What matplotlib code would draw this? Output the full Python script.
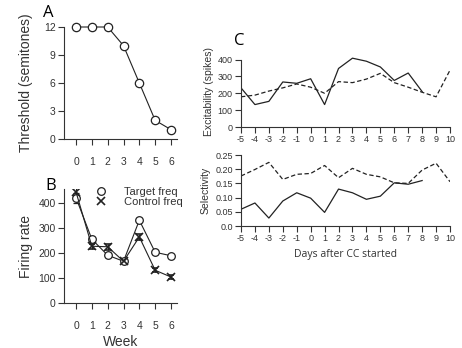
import matplotlib
matplotlib.use("Agg")
import matplotlib.pyplot as plt
from matplotlib.lines import Line2D
import numpy as np

plt.rcParams["axes.unicode_minus"] = False

# ---- data ----
weeks = [0, 1, 2, 3, 4, 5, 6]
threshold = [12, 12, 12, 10, 6, 2, 1]

target_freq = [421, 255, 191, 167, 331, 203, 189]
target_err = [20, 10, 8, 5, 8, 5, 5]
control_freq = [444, 227, 225, 167, 264, 131, 104]
control_err = [15, 10, 12, 5, 12, 8, 8]

days = [-5, -4, -3, -2, -1, 0, 1, 2, 3, 4, 5, 6, 7, 8, 9, 10]
excit_solid = [232, 133, 152, 267, 259, 286, 133, 347, 408, 390, 356, 276, 320, 210]
excit_dashed = [179, 189, 213, 232, 255, 236, 200, 269, 263, 284, 318, 263, 236, 206, 179, 337]
sel_solid = [0.059, 0.081, 0.028, 0.088, 0.117, 0.098, 0.048, 0.130, 0.117, 0.094, 0.105, 0.152, 0.147, 0.160]
sel_dashed = [0.176, 0.199, 0.224, 0.164, 0.182, 0.185, 0.213, 0.170, 0.203, 0.182, 0.173, 0.152, 0.150, 0.197, 0.221, 0.156]

W, H = 462, 348
fig = plt.figure(figsize=(W / 100, H / 100), dpi=100)

def add_ax(l, t, r, b):
    return fig.add_axes([l / W, 1 - b / H, (r - l) / W, (b - t) / H])

TICKF = "Liberation Sans"
LABF = "Open Sans"
lc = "#222222"

def style(ax, fs):
    for s in ["top", "right"]:
        ax.spines[s].set_visible(False)
    for s in ["left", "bottom"]:
        ax.spines[s].set_linewidth(0.8)
        ax.spines[s].set_color("#333333")
    ax.tick_params(direction="out", length=4, width=0.8, labelsize=fs, colors="#333333",
                   pad=2)
    for lab in ax.get_xticklabels() + ax.get_yticklabels():
        lab.set_fontfamily(TICKF)

# ---- Panel A ----
axA = add_ax(64, 27, 177, 139)
axA.plot(weeks, threshold, color=lc, lw=0.8, marker="o", ms=6, mfc="white", mec=lc, mew=0.9,
         clip_on=False, zorder=5)
axA.set_xlim(-0.76, 6.38)
axA.set_ylim(0, 12)
axA.set_xticks(weeks)
axA.set_yticks([0, 3, 6, 9, 12])
style(axA, 7.5)
axA.tick_params(axis="x", pad=9)
axA.set_ylabel("Threshold (semitones)", fontsize=10, fontfamily=TICKF, color="#333333", labelpad=8)
fig.text(43 / W, 1 - 17 / H, "A", fontsize=12, fontfamily=LABF, va="baseline")

# ---- Panel B ----
axB = add_ax(64, 189, 177, 303)
axB.errorbar(weeks, target_freq, yerr=target_err, color=lc, lw=0.8, marker="o", ms=5.5,
             mfc="white", mec=lc, mew=0.9, capsize=2, elinewidth=0.8)
axB.errorbar(weeks, control_freq, yerr=control_err, color=lc, lw=0.8, marker="x", ms=5.5,
             mec=lc, mew=1.2, capsize=2, elinewidth=0.8)
axB.set_xlim(-0.76, 6.38)
axB.set_ylim(0, 456)
axB.spines["left"].set_bounds(0, 456)
axB.set_xticks(weeks)
axB.set_yticks([0, 100, 200, 300, 400])
style(axB, 7.5)
axB.tick_params(axis="x", pad=9)
axB.set_ylabel("Firing rate", fontsize=10, fontfamily=TICKF, color="#333333", labelpad=4)
axB.set_xlabel("Week", fontsize=10, fontfamily=TICKF, color="#333333", labelpad=3)
handles = [Line2D([], [], ls="none", marker="o", ms=5.5, mfc="white", mec=lc, mew=0.9),
           Line2D([], [], ls="none", marker="x", ms=5.5, mec=lc, mew=1.2)]
leg = axB.legend(handles, ["Target freq", "Control freq"], loc="upper left",
                 bbox_to_anchor=(0.24, 1.06), frameon=False, handletextpad=1.6,
                 labelspacing=0.0, handlelength=1.0, borderaxespad=0,
                 prop={"family": TICKF, "size": 8})
for t in leg.get_texts():
    t.set_color("#333333")
fig.text(45 / W, 1 - 190 / H, "B", fontsize=12, fontfamily=LABF, va="baseline")

# ---- Panel C top ----
axC1 = add_ax(241, 57, 450, 127)
axC1.plot(days[:len(excit_solid)], excit_solid, color=lc, lw=0.9)
axC1.plot(days, excit_dashed, color=lc, lw=0.9, ls=(0, (3.5, 2)))
axC1.set_xlim(-5, 10)
axC1.set_ylim(0, 415)
axC1.spines["left"].set_bounds(0, 400)
axC1.set_xticks(days)
axC1.set_yticks([0, 100, 200, 300, 400])
style(axC1, 6.5)
axC1.set_ylabel("Excitability (spikes)", fontsize=7.5, fontfamily=TICKF, color="#333333", labelpad=3)
fig.text(234 / W, 1 - 45 / H, "C", fontsize=12, fontfamily=LABF, va="baseline")

# ---- Panel C bottom ----
axC2 = add_ax(241, 155, 450, 226)
axC2.plot(days[:len(sel_solid)], sel_solid, color=lc, lw=0.9)
axC2.plot(days, sel_dashed, color=lc, lw=0.9, ls=(0, (3.5, 2)))
axC2.set_xlim(-5, 10)
axC2.set_ylim(0, 0.25)
axC2.set_xticks(days)
axC2.set_yticks([0, 0.05, 0.10, 0.15, 0.20, 0.25])
axC2.set_yticklabels(["0.0", "0.05", "0.10", "0.15", "0.20", "0.25"])
style(axC2, 6.5)
axC2.set_ylabel("Selectivity", fontsize=7.5, fontfamily=TICKF, color="#333333", labelpad=3)
axC2.set_xlabel("Days after CC started", fontsize=7.5, fontfamily=LABF, color="#333333", labelpad=4)

fig.savefig("out.png", dpi=100)
